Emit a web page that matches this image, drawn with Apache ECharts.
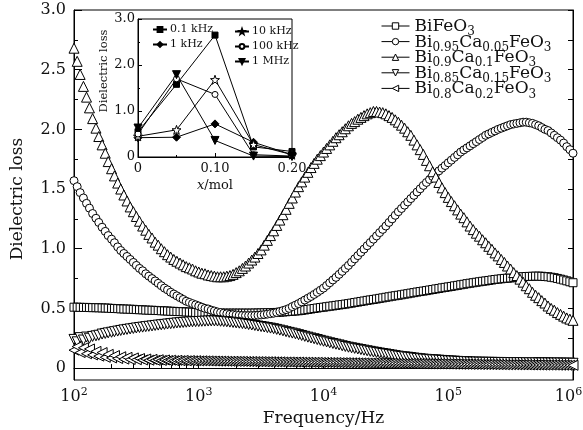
<!DOCTYPE html>
<html>
<head>
<meta charset="utf-8">
<script src="https://cdn.jsdelivr.net/npm/echarts@6/dist/echarts.min.js"></script>
<style>
  html, body { margin: 0; padding: 0; background: #fff; }
  #chart { width: 583px; height: 430px; }
</style>
</head>
<body>
<div id="chart"></div>
<script>
// Frequency sweep (Hz), 40 points per decade
const freqHz = [
  100,106,112,119,126,133,141,150,158,168,178,188,200,211,224,237,251,266,282,299,
  316,335,355,376,398,422,447,473,501,531,562,596,631,668,708,750,794,841,891,944,
  1000,1059,1122,1189,1259,1334,1413,1496,1585,1679,1778,1884,1995,2113,2239,2371,2512,2661,2818,2985,
  3162,3350,3548,3758,3981,4217,4467,4732,5012,5309,5623,5957,6310,6683,7079,7499,7943,8414,8913,9441,
  10000,10590,11220,11890,12590,13340,14130,14960,15850,16790,17780,18840,19950,21130,22390,23710,25120,26610,28180,29850,
  31620,33500,35480,37580,39810,42170,44670,47320,50120,53090,56230,59570,63100,66830,70790,74990,79430,84140,89130,94410,
  100000,105900,112200,118900,125900,133400,141300,149600,158500,167900,177800,188400,199500,211300,223900,237100,251200,266100,281800,298500,
  316200,335000,354800,375800,398100,421700,446700,473200,501200,530900,562300,595700,631000,668300,707900,749900,794300,841400,891300,944100,
  1000000
];

// Dielectric loss of each composition along the sweep
const lossBiFeO3 = [
  0.51,0.51,0.509,0.508,0.508,0.507,0.506,0.506,
  0.505,0.504,0.503,0.502,0.50,0.499,0.498,0.496,
  0.495,0.494,0.493,0.492,0.49,0.489,0.488,0.486,
  0.485,0.484,0.483,0.482,0.48,0.479,0.478,0.476,
  0.475,0.474,0.473,0.472,0.47,0.469,0.468,0.466,
  0.465,0.464,0.463,0.462,0.462,0.461,0.461,0.46,
  0.46,0.46,0.46,0.46,0.46,0.46,0.46,0.46,
  0.46,0.46,0.461,0.461,0.462,0.463,0.463,0.464,
  0.465,0.466,0.468,0.47,0.472,0.474,0.476,0.478,
  0.48,0.483,0.487,0.491,0.495,0.499,0.503,0.507,
  0.51,0.514,0.518,0.521,0.525,0.529,0.532,0.536,
  0.54,0.544,0.549,0.553,0.558,0.562,0.567,0.571,
  0.575,0.579,0.584,0.588,0.593,0.597,0.602,0.606,
  0.61,0.614,0.619,0.623,0.628,0.632,0.637,0.641,
  0.645,0.649,0.654,0.658,0.663,0.667,0.672,0.676,
  0.68,0.684,0.689,0.693,0.698,0.702,0.707,0.711,
  0.715,0.719,0.723,0.727,0.73,0.734,0.738,0.742,
  0.745,0.748,0.751,0.753,0.755,0.758,0.761,0.763,
  0.765,0.767,0.768,0.769,0.77,0.77,0.769,0.767,
  0.765,0.761,0.757,0.751,0.745,0.738,0.731,0.723,
  0.715
];

const lossCa005 = [
  1.57,1.52,1.47,1.425, 1.38,1.34,1.295,1.255, 1.22,1.18,1.145,1.11, 1.08,1.05,1.015,0.985,
  0.96,0.935,0.91,0.885, 0.86,0.835,0.815,0.79, 0.77,0.75,0.73,0.71, 0.69,0.67,0.655,0.635,
  0.62,0.605,0.59,0.575, 0.56,0.55,0.54,0.53, 0.52,0.51,0.50,0.495, 0.485,0.478,0.47,0.465,
  0.46,0.455,0.45,0.448, 0.445,0.443,0.441,0.44, 0.44,0.44,0.441,0.443, 0.445,0.448,0.452,0.456,
  0.46,0.466,0.474,0.482, 0.49,0.50,0.515,0.527, 0.54,0.555,0.57,0.585, 0.60,0.617,0.634,0.652,
  0.67,0.692,0.715,0.738, 0.76,0.785,0.81,0.835, 0.86,0.887,0.915,0.942, 0.97,0.997,1.025,1.052,
  1.08,1.107,1.135,1.162, 1.19,1.22,1.25,1.28, 1.31,1.337,1.365,1.392, 1.42,1.447,1.475,1.502,
  1.53,1.555,1.58,1.605, 1.63,1.652,1.675,1.697, 1.72,1.742,1.765,1.787, 1.81,1.828,1.845,1.862,
  1.88,1.897,1.915,1.932, 1.95,1.962,1.975,1.987, 2.00,2.01,2.02,2.03, 2.04,2.045,2.05,2.055,
  2.06,2.06,2.055,2.05, 2.04,2.03,2.015,2.00, 1.99,1.97,1.95,1.93, 1.91,1.885,1.855,1.83,
  1.80
];

const lossCa010 = [
  2.68,2.57,2.46,2.36,2.27,2.18,2.09,2.01,
  1.94,1.87,1.80,1.73,1.67,1.61,1.55,1.50,
  1.45,1.40,1.35,1.31,1.27,1.23,1.19,1.155,
  1.12,1.09,1.055,1.03,1.00,0.975,0.95,0.93,
  0.91,0.895,0.88,0.865,0.85,0.84,0.83,0.815,
  0.805,0.795,0.79,0.78,0.775,0.77,0.765,0.765,
  0.765,0.77,0.775,0.785,0.80,0.815,0.835,0.855,
  0.88,0.905,0.93,0.96,0.99,1.03,1.07,1.11,
  1.15,1.195,1.24,1.285,1.33,1.38,1.425,1.475,
  1.52,1.56,1.60,1.64,1.68,1.715,1.75,1.78,
  1.81,1.84,1.87,1.90,1.93,1.955,1.98,2.005,
  2.03,2.05,2.065,2.085,2.10,2.115,2.13,2.14,
  2.15,2.15,2.145,2.14,2.13,2.115,2.10,2.08,
  2.06,2.035,2.01,1.98,1.95,1.91,1.87,1.83,
  1.79,1.74,1.695,1.645,1.60,1.555,1.51,1.47,
  1.43,1.395,1.36,1.325,1.29,1.26,1.225,1.19,
  1.16,1.13,1.105,1.075,1.05,1.02,0.995,0.965,
  0.94,0.91,0.885,0.855,0.83,0.80,0.775,0.745,
  0.72,0.69,0.665,0.635,0.61,0.59,0.565,0.545,
  0.52,0.50,0.485,0.465,0.45,0.435,0.42,0.41,
  0.40
];

const lossCa015 = [
  0.24,0.22,0.255,0.235,0.26,0.25,0.265,0.27,
  0.275,0.285,0.29,0.295,0.30,0.305,0.31,0.315,
  0.32,0.324,0.328,0.332,0.336,0.34,0.343,0.347,
  0.35,0.353,0.357,0.36,0.363,0.366,0.369,0.372,
  0.375,0.378,0.38,0.382,0.384,0.386,0.388,0.389,
  0.39,0.392,0.393,0.394,0.395,0.395,0.394,0.392,
  0.39,0.388,0.385,0.382,0.379,0.376,0.373,0.369,
  0.365,0.361,0.357,0.352,0.348,0.344,0.339,0.335,
  0.33,0.324,0.318,0.312,0.305,0.299,0.293,0.287,
  0.28,0.273,0.266,0.259,0.252,0.246,0.239,0.232,
  0.225,0.219,0.212,0.206,0.20,0.194,0.187,0.181,
  0.175,0.17,0.165,0.16,0.155,0.15,0.145,0.14,
  0.135,0.131,0.126,0.122,0.118,0.113,0.109,0.104,
  0.10,0.097,0.094,0.091,0.088,0.084,0.081,0.078,
  0.075,0.073,0.071,0.069,0.068,0.066,0.064,0.062,
  0.06,0.059,0.058,0.056,0.055,0.054,0.053,0.051,
  0.05,0.05,0.049,0.049,0.048,0.048,0.048,0.047,
  0.047,0.047,0.046,0.046,0.046,0.045,0.045,0.045,
  0.045,0.044,0.044,0.044,0.044,0.043,0.043,0.043,
  0.043,0.042,0.042,0.042,0.042,0.041,0.041,0.041,
  0.04
];

const lossCa020 = [
  0.15,0.18,0.13,0.17,0.12,0.16,0.11,0.14,
  0.10,0.13,0.09,0.115,0.085,0.105,0.08,0.095,
  0.075,0.09,0.072,0.085,0.07,0.08,0.068,0.076,
  0.066,0.073,0.065,0.07,0.064,0.068,0.063,0.066,
  0.062,0.065,0.062,0.064,0.061,0.063,0.061,0.062,
  0.06,0.061,0.06,0.06,0.059,0.059,0.058,0.058,
  0.058,0.057,0.057,0.057,0.056,0.056,0.056,0.055,
  0.055,0.055,0.054,0.054,0.054,0.053,0.053,0.053,
  0.052,0.052,0.052,0.051,0.051,0.051,0.05,0.05,
  0.05,0.049,0.049,0.049,0.048,0.048,0.048,0.047,
  0.047,0.047,0.046,0.046,0.046,0.045,0.045,0.045,
  0.044,0.044,0.044,0.043,0.043,0.043,0.042,0.042,
  0.042,0.041,0.041,0.041,0.04,0.04,0.04,0.039,
  0.039,0.039,0.038,0.038,0.038,0.037,0.037,0.037,
  0.036,0.036,0.036,0.035,0.035,0.035,0.034,0.034,
  0.034,0.033,0.033,0.033,0.032,0.032,0.032,0.031,
  0.031,0.031,0.03,0.03,0.03,0.03,0.029,0.029,
  0.029,0.029,0.028,0.028,0.028,0.028,0.027,0.027,
  0.027,0.027,0.026,0.026,0.026,0.026,0.025,0.025,
  0.025,0.025,0.025,0.024,0.024,0.024,0.024,0.024,
  0.023
];

const seriesNames = ['BiFeO3', 'Bi0.95Ca0.05FeO3', 'Bi0.9Ca0.1FeO3', 'Bi0.85Ca0.15FeO3', 'Bi0.8Ca0.2FeO3'];
const seriesLoss = [lossBiFeO3, lossCa005, lossCa010, lossCa015, lossCa020];

// Axis ticks of the main plot
const yTickValues = [0, 0.5, 1.0, 1.5, 2.0, 2.5, 3.0];
const yMinorValues = [0.25, 0.75, 1.25, 1.75, 2.25, 2.75];
const xDecades = [100, 1000, 10000, 100000];

// Inset: loss versus Ca content at fixed frequencies
const insetX = [0, 0.05, 0.10, 0.15, 0.20];
const insetNames = ['0.1 kHz', '1 kHz', '10 kHz', '100 kHz', '1 MHz'];
const inset01kHz = [0.55, 1.58, 2.65, 0.22, 0.12];
const inset1kHz = [0.42, 0.43, 0.72, 0.32, 0.05];
const inset10kHz = [0.45, 0.59, 1.68, 0.27, 0.05];
const inset100kHz = [0.50, 1.70, 1.36, 0.05, 0.02];
const inset1MHz = [0.63, 1.79, 0.36, 0.02, 0.01];
const insetLoss = [inset01kHz, inset1kHz, inset10kHz, inset100kHz, inset1MHz];

const FONT = 'DejaVu Serif';
const INK = '#111';

const xMinorValues = [];
xDecades.forEach(d => { for (let k = 2; k <= 9; k++) xMinorValues.push(d * k); });

// chemical formula -> rich text with subscripted numbers
function formula(name) {
  return name.split(/(\d+(?:\.\d+)?)/).filter(s => s !== '')
    .map(s => /^\d/.test(s) ? '{s|' + s + '}' : '{n|' + s + '}').join('');
}

const STAR = 'path://M0,-10L2.35,-3.24L9.51,-3.09L3.8,1.24L5.88,8.09L0,4L-5.88,8.09L-3.8,1.24L-9.51,-3.09L-2.35,-3.24Z';

const mainMarkers = [
  { symbol: 'rect', size: 8, rotate: 0 },
  { symbol: 'circle', size: 8, rotate: 0 },
  { symbol: 'triangle', size: 10, rotate: 0 },
  { symbol: 'triangle', size: 10, rotate: 180 },
  { symbol: 'triangle', size: 10, rotate: 90 }
];

const insetMarkers = [
  { symbol: 'rect', size: 6, fill: '#000' },
  { symbol: 'diamond', size: 8, fill: '#000' },
  { symbol: STAR, size: 9, fill: '#fff' },
  { symbol: 'circle', size: 6, fill: '#fff' },
  { symbol: 'triangle', size: 8, fill: '#000', rotate: 180 }
];

const series = [];
seriesNames.forEach((name, i) => {
  const m = mainMarkers[i];
  series.push({
    name: name,
    type: 'line',
    xAxisIndex: 0,
    yAxisIndex: 0,
    data: freqHz.map((f, j) => [f, seriesLoss[i][j]]),
    symbol: m.symbol,
    symbolSize: m.size,
    symbolRotate: m.rotate,
    showSymbol: true,
    showAllSymbol: true,
    lineStyle: { width: 0, opacity: 0 },
    itemStyle: { color: '#fff', borderColor: '#000', borderWidth: 1 },
    emphasis: { disabled: true },
    z: 2
  });
});

insetNames.forEach((name, i) => {
  const m = insetMarkers[i];
  series.push({
    name: name,
    type: 'line',
    xAxisIndex: 2,
    yAxisIndex: 3,
    data: insetX.map((x, j) => [x, insetLoss[i][j]]),
    symbol: m.symbol,
    symbolSize: m.size,
    symbolRotate: m.rotate || 0,
    showSymbol: true,
    lineStyle: { color: '#000', width: 1 },
    itemStyle: { color: m.fill, borderColor: '#000', borderWidth: 1 },
    emphasis: { disabled: true },
    z: 12
  });
});

const richFormula = {
  n: { fontFamily: FONT, fontSize: 17, color: INK, lineHeight: 16, verticalAlign: 'top' },
  s: { fontFamily: FONT, fontSize: 12, color: INK, lineHeight: 10, verticalAlign: 'top', padding: [8, 0, 0, 0] }
};

const insetLegendBase = {
  orient: 'vertical',
  itemWidth: 14,
  itemHeight: 6,
  itemGap: 4,
  selectedMode: false,
  textStyle: { fontFamily: FONT, fontSize: 11, color: INK, padding: [0, 0, 0, -2] },
  z: 20
};

const option = {
  animation: false,
  backgroundColor: '#fff',
  grid: [
    { left: 74, right: 10, top: 10, bottom: 50, show: true, borderColor: '#000', borderWidth: 1,
      backgroundColor: 'transparent', outerBoundsMode: 'none' },
    { left: 138, right: 291, top: 19, bottom: 273, show: true, borderColor: '#000', borderWidth: 1,
      backgroundColor: '#fff', z: 10, outerBoundsMode: 'none' }
  ],
  legend: [
    {
      data: seriesNames,
      orient: 'vertical',
      left: 376,
      top: 13,
      itemWidth: 28,
      itemHeight: 8,
      itemGap: -4.4,
      selectedMode: false,
      formatter: formula,
      lineStyle: { color: '#000', width: 1, opacity: 1, type: 'solid' },
      itemStyle: { color: '#fff', borderColor: '#000', borderWidth: 1 },
      textStyle: { fontFamily: FONT, fontSize: 17, color: INK, rich: richFormula },
      z: 20
    },
    Object.assign({ data: insetNames.slice(0, 2), left: 147, top: 19 }, insetLegendBase),
    Object.assign({ data: insetNames.slice(2), left: 229, top: 21 }, insetLegendBase)
  ],
  xAxis: [
    {
      type: 'log', logBase: 10, gridIndex: 0, min: 100, max: 1000000, position: 'bottom',
      axisLine: { show: true, lineStyle: { color: '#000', width: 1 } },
      axisTick: { show: true, inside: true, length: 9, lineStyle: { color: '#000' } },
      minorTick: { show: false },
      splitLine: { show: false },
      axisLabel: {
        margin: 7,
        formatter: v => {
          const e = Math.round(Math.log10(v));
          return '{b|10}{' + (e === 6 ? 'q' : 'p') + '|' + e + '}';
        },
        rich: {
          b: { fontFamily: FONT, fontSize: 16, color: INK, lineHeight: 18, verticalAlign: 'bottom' },
          p: { fontFamily: FONT, fontSize: 11, color: INK, lineHeight: 11, verticalAlign: 'top' },
          q: { fontFamily: FONT, fontSize: 11, color: INK, lineHeight: 11, verticalAlign: 'top', padding: [0, 9, 0, 0] }
        }
      },
      name: 'Frequency/Hz', nameLocation: 'middle', nameGap: 29,
      nameTextStyle: { fontFamily: FONT, fontSize: 17, color: INK }
    },
    {
      type: 'log', logBase: 10, gridIndex: 0, min: 100, max: 1000000, position: 'bottom',
      axisLine: { show: false },
      axisTick: { show: true, inside: true, length: 4, customValues: xMinorValues, lineStyle: { color: '#000' } },
      axisLabel: { show: false },
      splitLine: { show: false }
    },
    {
      type: 'value', gridIndex: 1, min: 0, max: 0.2, interval: 0.1,
      axisLine: { show: true, lineStyle: { color: '#000', width: 1 } },
      axisTick: { show: true, inside: true, length: 4, lineStyle: { color: '#000' } },
      minorTick: { show: true, splitNumber: 2, length: 2, lineStyle: { color: '#000' } },
      splitLine: { show: false },
      axisLabel: { margin: 5, fontFamily: FONT, fontSize: 13, color: INK,
        formatter: v => v === 0 ? '0' : v.toFixed(2) },
      name: '{i|x}/mol', nameLocation: 'middle', nameGap: 22,
      nameTextStyle: { fontFamily: FONT, fontSize: 13, color: INK,
        rich: { i: { fontFamily: FONT, fontSize: 13, fontStyle: 'italic', color: INK } } },
      z: 11
    }
  ],
  yAxis: [
    {
      type: 'value', gridIndex: 0, min: -0.1, max: 3.0, position: 'left',
      axisLine: { show: true, lineStyle: { color: '#000', width: 1 } },
      axisTick: { show: true, inside: true, length: 8, customValues: yTickValues, lineStyle: { color: '#000' } },
      splitLine: { show: false },
      axisLabel: { customValues: yTickValues, margin: 8, fontFamily: FONT, fontSize: 16, color: INK,
        formatter: v => v === 0 ? '0' : v.toFixed(1) },
      name: 'Dielectric loss', nameLocation: 'middle', nameGap: 48, nameRotate: 90,
      nameTextStyle: { fontFamily: FONT, fontSize: 17, color: INK, padding: [0, 8, 0, 0] }
    },
    {
      type: 'value', gridIndex: 0, min: -0.1, max: 3.0, position: 'left',
      axisLine: { show: false },
      axisTick: { show: true, inside: true, length: 4, customValues: yMinorValues, lineStyle: { color: '#000' } },
      axisLabel: { show: false },
      splitLine: { show: false }
    },
    {
      type: 'value', gridIndex: 0, min: -0.1, max: 3.0, position: 'right',
      axisLine: { show: true, lineStyle: { color: '#000', width: 1 } },
      axisTick: { show: true, inside: true, length: 5,
        customValues: yTickValues.concat(yMinorValues), lineStyle: { color: '#000' } },
      axisLabel: { show: false },
      splitLine: { show: false }
    },
    {
      type: 'value', gridIndex: 1, min: 0, max: 3.0, interval: 1,
      axisLine: { show: true, lineStyle: { color: '#000', width: 1 } },
      axisTick: { show: true, inside: true, length: 4, lineStyle: { color: '#000' } },
      minorTick: { show: true, splitNumber: 2, length: 2, lineStyle: { color: '#000' } },
      splitLine: { show: false },
      axisLabel: { margin: 3, fontFamily: FONT, fontSize: 13, color: INK,
        formatter: v => v === 0 ? '0' : v.toFixed(1) },
      name: 'Dielectric loss', nameLocation: 'middle', nameGap: 28, nameRotate: 90,
      nameTextStyle: { fontFamily: FONT, fontSize: 11.5, color: INK, padding: [0, 0, 0, 34] },
      z: 11
    }
  ],
  series: series
};

const chart = echarts.init(document.getElementById('chart'), null, { renderer: 'canvas' });
chart.setOption(option);
</script>
</body>
</html>
